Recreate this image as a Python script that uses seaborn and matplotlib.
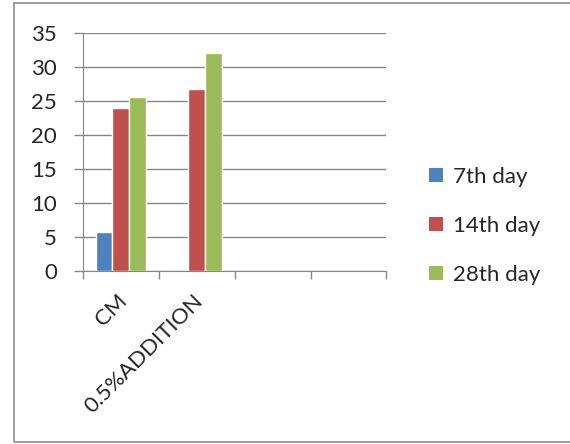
import matplotlib
matplotlib.use("Agg")
import matplotlib.pyplot as plt
import seaborn as sns
import pandas as pd
from matplotlib.patches import Rectangle, Patch

# Compressive strength readings per mix, by curing age
categories = ["CM", "0.5%ADDITION", "", " "]
mixes = ["CM", "0.5%ADDITION"]
day7 = [5.8, 0.0]
day14 = [24.0, 26.8]
day28 = [25.6, 32.1]
series_names = ["7th day", "14th day", "28th day"]
colors = ["#4F81BD", "#C0504D", "#9BBB59"]
y_ticks = [0, 5, 10, 15, 20, 25, 30, 35]

rows = []
for name, vals in zip(series_names, [day7, day14, day28]):
    for m, v in zip(mixes, vals):
        rows.append({"mix": m, "age": name, "value": v})
df = pd.DataFrame(rows)

sns.set_style("white")
plt.rcParams["font.family"] = ["Lato", "DejaVu Sans"]

fig = plt.figure(figsize=(5.70, 4.44), dpi=100)
ax = fig.add_axes([0.145, 0.3896, 0.533, 0.5354])

sns.barplot(data=df, x="mix", y="value", hue="age", order=categories,
            hue_order=series_names, palette=colors, width=0.66, gap=0,
            saturation=1, ax=ax, legend=False, errorbar=None)

grid_c = "#868686"
fs = 16
ax.set_ylim(0, 35)
ax.set_xlim(-0.5, len(categories) - 0.5)
ax.set_yticks(y_ticks)
ax.set_yticklabels([str(t) for t in y_ticks], fontsize=fs)
ax.yaxis.grid(True, color=grid_c, linewidth=1)
ax.set_axisbelow(True)
ax.tick_params(axis="y", length=6.5, width=1, color=grid_c, pad=12, left=True)
ax.set_xlabel("")
ax.set_ylabel("")

# category boundary ticks below the axis
ax.set_xticks([i - 0.5 for i in range(len(categories) + 1)])
ax.set_xticklabels([])
ax.tick_params(axis="x", length=6, width=1, color=grid_c, bottom=True, direction="out")
for i, lab in enumerate(categories):
    if lab.strip():
        ax.annotate(lab, xy=(i, 0), xycoords="data", xytext=(-3, -14),
                    textcoords="offset points", rotation=45, ha="right",
                    va="top", rotation_mode="anchor", fontsize=fs)

for side in ["top", "right"]:
    ax.spines[side].set_visible(False)
ax.spines["left"].set_color(grid_c)
ax.spines["bottom"].set_color(grid_c)

handles = [Patch(facecolor=c, edgecolor="none") for c in colors]
ax.legend(handles, series_names, loc="center left", bbox_to_anchor=(1.075, 0.19),
          frameon=False, fontsize=fs, handlelength=0.6, handleheight=0.6,
          handletextpad=0.45, labelspacing=1.3)

fig.patches.append(Rectangle((14 / 570, 1 - 442 / 444), 1.2, (442 - 3.5) / 444,
                             transform=fig.transFigure, fill=False,
                             edgecolor="#8C8C8C", linewidth=1.2))

fig.savefig("out.png", dpi=100)
